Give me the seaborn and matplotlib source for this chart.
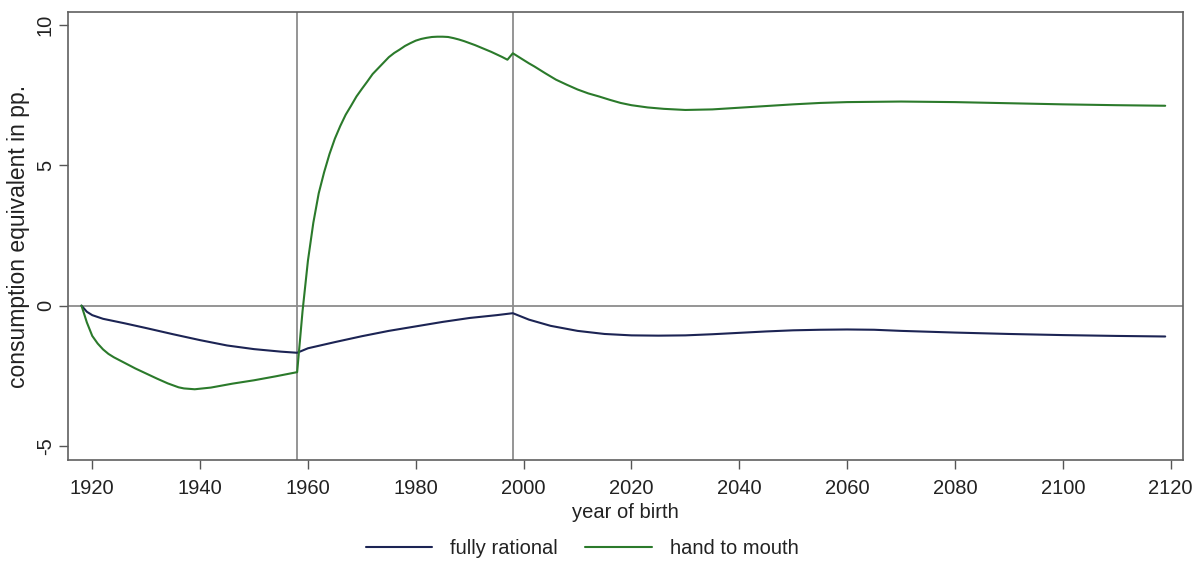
import numpy as np
import pandas as pd
import seaborn as sns
import matplotlib
matplotlib.use("Agg")
import matplotlib.pyplot as plt

# Welfare effect by cohort, consumption equivalent in percentage points
years_rational = [1918, 1919, 1920, 1922, 1926, 1930, 1935, 1940, 1945, 1950, 1955, 1958,
                  1960, 1965, 1970, 1975, 1980, 1985, 1990, 1995, 1998,
                  2001, 2005, 2010, 2015, 2020, 2025, 2030, 2035, 2040, 2045, 2050,
                  2055, 2060, 2065, 2070, 2080, 2090, 2100, 2110, 2119]
fully_rational = [0.0, -0.22, -0.34, -0.47, -0.63, -0.80, -1.02, -1.23, -1.42, -1.55, -1.64, -1.68,
                  -1.52, -1.30, -1.09, -0.90, -0.74, -0.58, -0.44, -0.34, -0.27,
                  -0.50, -0.72, -0.90, -1.01, -1.06, -1.07, -1.06, -1.02, -0.97, -0.92, -0.88,
                  -0.86, -0.85, -0.86, -0.90, -0.96, -1.01, -1.05, -1.08, -1.10]

years_htm = [1918, 1919, 1920, 1921, 1922, 1923, 1924, 1926, 1928, 1930, 1932, 1934, 1936, 1937,
             1939, 1942, 1946, 1950, 1954, 1958, 1959, 1960, 1961, 1962, 1963, 1964, 1965, 1966,
             1967, 1968, 1969, 1970, 1971, 1972, 1973, 1974, 1975, 1976, 1977, 1978, 1979, 1980,
             1981, 1982, 1983, 1984, 1985, 1986, 1987, 1988, 1989, 1990, 1991, 1992, 1993, 1994,
             1995, 1996, 1997, 1998, 1999, 2000, 2001, 2002, 2004, 2006, 2008, 2010, 2012, 2014,
             2016, 2018, 2020, 2023, 2026, 2030, 2035, 2040, 2045, 2050, 2055, 2060, 2070,
             2080, 2090, 2100, 2110, 2119]
hand_to_mouth = [0.0, -0.60, -1.08, -1.35, -1.56, -1.72, -1.84, -2.04, -2.24, -2.42, -2.60, -2.77, -2.91, -2.95,
                 -2.98, -2.92, -2.78, -2.66, -2.52, -2.37, -0.20, 1.60, 2.95, 4.00, 4.75, 5.40, 5.95, 6.40,
                 6.80, 7.12, 7.45, 7.72, 7.98, 8.25, 8.45, 8.65, 8.85, 9.00, 9.12, 9.25, 9.35, 9.44,
                 9.50, 9.54, 9.57, 9.58, 9.58, 9.57, 9.53, 9.48, 9.42, 9.35, 9.28, 9.20, 9.12, 9.04,
                 8.95, 8.86, 8.76, 8.99, 8.87, 8.75, 8.63, 8.52, 8.28, 8.05, 7.87, 7.70, 7.56, 7.45,
                 7.33, 7.22, 7.14, 7.06, 7.01, 6.97, 6.99, 7.05, 7.11, 7.17, 7.22, 7.25, 7.27,
                 7.25, 7.21, 7.17, 7.14, 7.12]

series_names = ["fully rational", "hand to mouth"]
series_colors = ["#1c2454", "#2b7a2b"]
reform_years = [1958, 1998]
x_ticks = list(range(1920, 2121, 20))
y_ticks = [-5, 0, 5, 10]

df = pd.concat([
    pd.DataFrame({"year": years_rational, "value": fully_rational, "series": series_names[0]}),
    pd.DataFrame({"year": years_htm, "value": hand_to_mouth, "series": series_names[1]}),
], ignore_index=True)

sns.set_theme(style="white")
plt.rcParams["font.family"] = ["Liberation Sans", "DejaVu Sans"]

fig = plt.figure(figsize=(12.03, 5.68), dpi=100)
ax = fig.add_axes([68 / 1203, 1 - 460 / 568, (1183 - 68) / 1203, (460 - 12) / 568])

ref_color = "#8c8c8c"
ax.axhline(0, color=ref_color, lw=1.3, zorder=1)
for yr in reform_years:
    ax.axvline(yr, color=ref_color, lw=1.3, zorder=1)

sns.lineplot(data=df, x="year", y="value", hue="series", hue_order=series_names,
             palette=series_colors, sort=False, estimator=None, lw=1.5, ax=ax, legend=False,
             zorder=3)

ax.set_xlim(1915.5, 2122.3)
ax.set_ylim(-5.5, 10.46)
ax.set_xticks(x_ticks)
ax.set_yticks(y_ticks)
ax.set_yticklabels([str(v) for v in y_ticks], rotation=90, va="center")
ax.tick_params(axis="both", which="both", direction="out", length=6.5, width=1,
               color="#555555", labelsize=14.5, labelcolor="#222222", left=True, bottom=True)
ax.tick_params(axis="x", pad=7)
ax.tick_params(axis="y", pad=3)

for spine in ax.spines.values():
    spine.set_color("#606060")
    spine.set_linewidth(1.2)

ax.set_xlabel("year of birth", fontsize=14.5, color="#222222", labelpad=4)
ax.set_ylabel("consumption equivalent in pp.", fontsize=16.5, color="#222222", labelpad=4)

handles = [plt.Line2D([], [], color=c, lw=1.5) for c in series_colors]
fig.legend(handles, series_names, loc="center", bbox_to_anchor=(582 / 1203, 1 - 549 / 568),
           ncol=2, frameon=False, fontsize=14.5, handlelength=3.3, columnspacing=1.35,
           handletextpad=0.9, labelcolor="#222222")

fig.savefig("out.png", dpi=100)
